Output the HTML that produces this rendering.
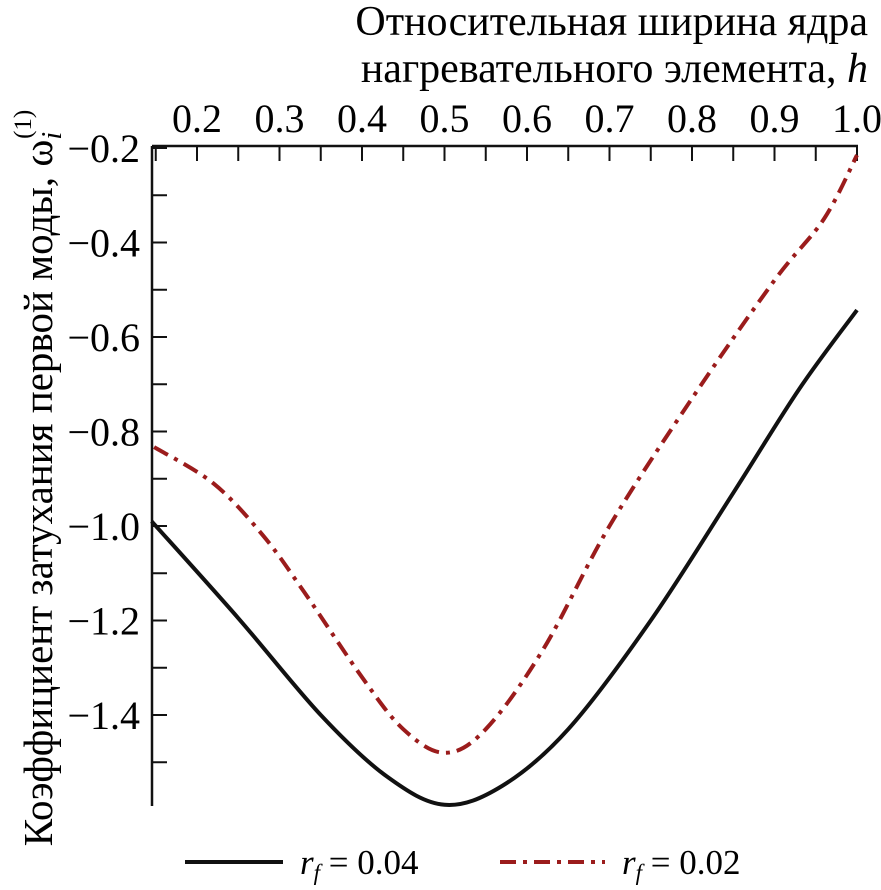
<!DOCTYPE html>
<html><head><meta charset="utf-8"><style>
body{margin:0;background:#fff;}
svg{display:block;font-family:"Liberation Serif",serif;}
</style></head><body>
<svg id="chart" width="881" height="890" viewBox="0 0 881 890">
<text x="868" y="35" text-anchor="end" font-size="42">Относительная ширина ядра</text>
<text x="868" y="82" text-anchor="end" font-size="42">нагревательного элемента, <tspan font-style="italic">h</tspan></text>
<text transform="translate(52,478) rotate(-90)" text-anchor="middle" font-size="41">Коэффициент затухания первой моды, ω<tspan font-style="italic" font-size="28" dy="9">i</tspan><tspan font-size="25" dx="-7" dy="-30">(1)</tspan></text>
<g id="axes"></g>
<g id="series"></g>
<g>
<line x1="185" y1="862" x2="283" y2="862" stroke="#111" stroke-width="4"/>
<text x="300" y="874" font-size="35"><tspan font-style="italic">r<tspan font-size="23" dy="6">f</tspan></tspan><tspan dy="-6"> = 0.04</tspan></text>
<line x1="500" y1="862" x2="605" y2="862" stroke="#9b1c1c" stroke-width="4" stroke-dasharray="16,7,4,7"/>
<text x="622" y="874" font-size="35"><tspan font-style="italic">r<tspan font-size="23" dy="6">f</tspan></tspan><tspan dy="-6"> = 0.02</tspan></text>
</g>
</svg>
<script>
const xTicks=[0.2,0.3,0.4,0.5,0.6,0.7,0.8,0.9,1.0];
const yTicks=[-0.2,-0.4,-0.6,-0.8,-1.0,-1.2,-1.4];
const hBlack=[0.145,0.25,0.35,0.43,0.5,0.57,0.65,0.75,0.85,0.93,1.0];
const vBlack=[-0.99,-1.195,-1.40,-1.53,-1.59,-1.55,-1.43,-1.20,-0.93,-0.71,-0.543];
const hRed=[0.148,0.22,0.28,0.33,0.4,0.45,0.5,0.55,0.62,0.7,0.8,0.9,0.96,1.0];
const vRed=[-0.833,-0.91,-1.02,-1.14,-1.32,-1.43,-1.48,-1.43,-1.26,-1.0,-0.73,-0.48,-0.35,-0.215];
const NS='http://www.w3.org/2000/svg';
function X(h){return 197+(h-0.2)*825;}
function Y(v){return 148+(-0.2-v)/0.2*94.5;}
const axes=document.getElementById('axes');
function mk(tag,attrs,parent){const e=document.createElementNS(NS,tag);for(const k in attrs)e.setAttribute(k,attrs[k]);parent.appendChild(e);return e;}
let l=mk('line',{x1:152,y1:146,x2:858,y2:146,stroke:'#111','stroke-width':2.5},axes);


l=mk('line',{x1:152,y1:146,x2:152,y2:806,stroke:'#111','stroke-width':2.5},axes);


for(let h=0.15;h<=1.0001;h+=0.05){
  const t=mk('line',{x1:X(h),y1:146,x2:X(h),y2:161,stroke:'#111','stroke-width':2},axes);
  
  
}
xTicks.forEach(h=>{
  const t=mk('text',{x:X(h),y:132,'text-anchor':'middle','font-size':40},axes);
  t.textContent=h.toFixed(1);
  
  
});
for(let v=-0.2;v>=-1.5001;v-=0.1){
  const t=mk('line',{x1:152,y1:Y(v),x2:167,y2:Y(v),stroke:'#111','stroke-width':2},axes);
  
  
}
yTicks.forEach(v=>{
  const t=mk('text',{x:140,y:Y(v)+14,'text-anchor':'end','font-size':40},axes);
  t.textContent='\u2212'+Math.abs(v).toFixed(1);
  
  
});
function smooth(hs,vs){
  const p=hs.map((h,i)=>[X(h),Y(vs[i])]);
  let d='M'+p[0][0]+','+p[0][1];
  for(let i=0;i<p.length-1;i++){
    const p0=p[i-1]||p[i],p1=p[i],p2=p[i+1],p3=p[i+2]||p2;
    const c1=[p1[0]+(p2[0]-p0[0])/6,p1[1]+(p2[1]-p0[1])/6];
    const c2=[p2[0]-(p3[0]-p1[0])/6,p2[1]-(p3[1]-p1[1])/6];
    d+=' C'+c1+' '+c2+' '+p2;
  }
  return d;
}
const s=document.getElementById('series');
let pb=mk('path',{d:smooth(hBlack,vBlack),fill:'none',stroke:'#111','stroke-width':4},s);


let pr=mk('path',{d:smooth(hRed,vRed),fill:'none',stroke:'#9b1c1c','stroke-width':4,'stroke-dasharray':'16,7,4,7'},s);


</script>
</body></html>
